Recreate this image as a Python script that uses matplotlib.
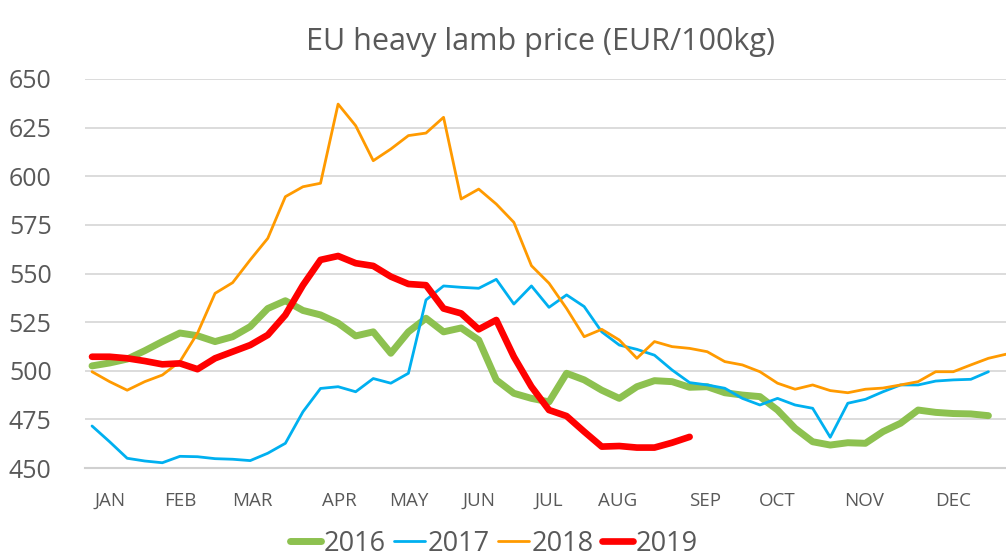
import matplotlib
matplotlib.use("Agg")
import matplotlib.pyplot as plt

plt.rcParams['font.family'] = ['Open Sans', 'DejaVu Sans']

# weekly prices, EUR/100kg
weeks = list(range(1, 54))

price_2016 = [502.5, 504, 506, 510.3, 515, 519.4, 518, 515, 517.5, 522.7,
              532, 536, 531, 528.7, 524.5, 517.9, 520, 509, 520, 527,
              520, 522, 515.8, 495.3, 488.4, 485.8, 484, 498.7, 495.3, 490,
              485.8, 491.8, 494.9, 494.4, 491.5, 491.8, 488.7, 487.5, 486.7, 479.8,
              470.4, 463.5, 461.8, 463, 462.7, 468.7, 473, 479.8, 478.6, 478,
              477.8, 476.9]

price_2017 = [471.6, 463.5, 455, 453.6, 452.7, 456, 455.8, 454.8, 454.5, 453.8,
              457.6, 462.7, 478.9, 490.9, 491.8, 489.2, 496, 493.6, 498.7, 536.4,
              543.6, 542.9, 542.4, 547, 534.3, 543.6, 532.6, 539, 533, 520,
              513.2, 511, 508, 500.4, 493.9, 492.7, 491, 485.8, 482.4, 485.8,
              482.4, 480.7, 465.8, 483.3, 485.3, 489.2, 492.7, 492.7, 494.7, 495.3,
              495.6, 499.5]

price_2018 = [499.5, 494.4, 490, 494.4, 497.8, 504.7, 519.3, 539.8, 545.3, 557,
              568.1, 589.5, 594.6, 596.4, 637.1, 626, 608, 614, 620.9, 622.2,
              630.3, 588.3, 593.4, 585.7, 576.3, 554, 545, 532, 517.5, 521.3,
              515.8, 506.4, 515, 512.4, 511.5, 509.8, 504.7, 503, 499.5, 493.6,
              490.5, 492.7, 489.8, 488.7, 490.5, 491.1, 492.7, 494.4, 499.5, 499.5,
              503, 506.4, 508.5]

price_2019 = [507.2, 507.2, 506.4, 505, 503.3, 503.8, 500.8, 506.4, 509.8, 513.2,
              518.4, 528.7, 544, 557, 559, 555.3, 553.9, 548.4, 544.6, 544,
              532, 529.5, 521.3, 526.1, 507.2, 491.8, 479.8, 476.7, 468.7, 461,
              461.3, 460.5, 460.5, 463, 466]

month_labels = ["JAN", "FEB", "MAR", "APR", "MAY", "JUN",
                "JUL", "AUG", "SEP", "OCT", "NOV", "DEC"]
month_weeks = [2, 6, 10.1, 15.1, 19, 23, 27, 30.9, 35.9, 40, 44.9, 50]

y_ticks = [450, 475, 500, 525, 550, 575, 600, 625, 650]

series = [
    ("2016", price_2016, "#8dc150", 5.0),
    ("2017", price_2017, "#00b0f0", 2.0),
    ("2018", price_2018, "#ff9a00", 2.0),
    ("2019", price_2019, "#ff0000", 4.8),
]

fig = plt.figure(figsize=(10.06, 5.56), dpi=100)
ax = fig.add_axes([85 / 1006, 1 - 468 / 556, 921 / 1006, 389 / 556])

for name, vals, col, lw in series:
    ax.plot(weeks[:len(vals)], vals, color=col, lw=lw, label=name,
            solid_joinstyle="round", solid_capstyle="round", clip_on=False)

ax.set_xlim(0.6, 53.0)
ax.set_ylim(450, 650)
ax.set_yticks(y_ticks)
ax.set_xticks(month_weeks)
ax.set_xticklabels(month_labels)
ax.grid(axis="y", color="#d9d9d9", lw=1.3)
ax.set_axisbelow(True)
for s in ["top", "right", "left"]:
    ax.spines[s].set_visible(False)
ax.spines["bottom"].set_color("#d0d0d0")
ax.spines["bottom"].set_linewidth(1.5)
ax.tick_params(axis="y", length=0, labelsize=18, labelcolor="#595959", pad=24)
ax.tick_params(axis="x", length=0, labelsize=13.5, labelcolor="#595959", pad=17)

fig.text(0.537, 0.925, "EU heavy lamb price (EUR/100kg)", ha="center", va="center",
         fontsize=22, color="#595959")

fig.legend(loc="center", bbox_to_anchor=(0.491, 0.022), ncol=4, frameon=False,
           fontsize=19.5, labelcolor="#595959", handlelength=1.15,
           handletextpad=0.1, columnspacing=0.3, borderpad=0)

fig.savefig("out.png", dpi=100)
